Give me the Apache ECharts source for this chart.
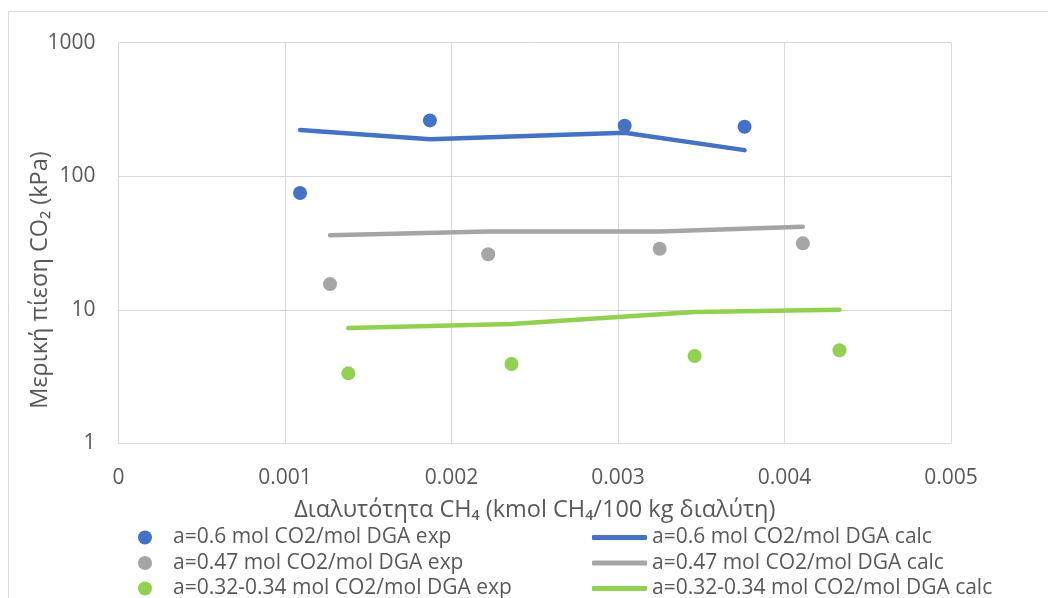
<!DOCTYPE html>
<html>
<head>
<meta charset="utf-8">
<script src="https://cdn.jsdelivr.net/npm/echarts@6/dist/echarts.min.js"></script>
<style>
  html, body { margin: 0; padding: 0; background: #fff; }
  #chart { width: 1048px; height: 598px; }
</style>
</head>
<body>
<div id="chart"></div>
<script>
// Solubility of CH4 (kmol CH4 / 100 kg solvent) for each CO2 loading
const xLoad060 = [0.00109, 0.00187, 0.00304, 0.00376];
const xLoad047 = [0.00127, 0.00222, 0.00325, 0.00411];
const xLoad033 = [0.00138, 0.00236, 0.00346, 0.00433];

// CO2 partial pressure (kPa): experimental points
const expLoad060 = [75, 262, 239, 235];
const expLoad047 = [15.6, 26.1, 28.7, 31.5];
const expLoad033 = [3.35, 3.94, 4.52, 4.99];

// CO2 partial pressure (kPa): calculated curves
const calcLoad060 = [222, 189, 212, 157];
const calcLoad047 = [36.2, 38.7, 38.7, 42.0];
const calcLoad033 = [7.31, 7.84, 9.64, 10.04];

const xTicks = [0, 0.001, 0.002, 0.003, 0.004, 0.005];
const yTicks = [1, 10, 100, 1000];

const xTitle = 'Διαλυτότητα CH₄ (kmol CH₄/100 kg διαλύτη)';
const yTitle = 'Μερική πίεση CO₂ (kPa)';

const expNames = [
  'a=0.6 mol CO2/mol DGA exp',
  'a=0.47 mol CO2/mol DGA exp',
  'a=0.32-0.34 mol CO2/mol DGA exp'
];
const calcNames = [
  'a=0.6 mol CO2/mol DGA calc',
  'a=0.47 mol CO2/mol DGA calc',
  'a=0.32-0.34 mol CO2/mol DGA calc'
];

const colors = ['#4472C4', '#A5A5A5', '#92D050'];
const FONT = '"Open Sans", "Noto Sans", sans-serif';
const TEXT = '#595959';
const GRID = '#D9D9D9';

const pairs = (xs, ys) => xs.map((x, i) => [x, ys[i]]);
const xs = [xLoad060, xLoad047, xLoad033];
const exps = [expLoad060, expLoad047, expLoad033];
const calcs = [calcLoad060, calcLoad047, calcLoad033];

const series = [];
exps.forEach((ys, i) => {
  series.push({
    name: expNames[i],
    type: 'scatter',
    symbol: 'circle',
    symbolSize: 14,
    itemStyle: { color: colors[i], opacity: 1 },
    data: pairs(xs[i], ys)
  });
});
calcs.forEach((ys, i) => {
  series.push({
    name: calcNames[i],
    type: 'line',
    showSymbol: false,
    symbol: 'none',
    itemStyle: { color: colors[i] },
    lineStyle: { color: colors[i], width: 4.5, cap: 'round', join: 'round' },
    data: pairs(xs[i], ys)
  });
});

const legendText = { color: TEXT, fontSize: 21, fontFamily: FONT, lineHeight: 21 };

const chart = echarts.init(document.getElementById('chart'), null, { renderer: 'canvas' });
chart.setOption({
  animation: false,
  backgroundColor: '#fff',
  textStyle: { fontFamily: FONT },
  graphic: [{
    // chart frame
    type: 'rect',
    silent: true,
    shape: { x: 8.5, y: 11.5, width: 1200, height: 800 },
    style: { fill: 'none', stroke: GRID, lineWidth: 1 }
  }, {
    // vertical axis title
    type: 'text',
    silent: true,
    x: 40,
    y: 280,
    rotation: Math.PI / 2,
    style: {
      text: yTitle,
      fill: TEXT,
      font: '23.5px ' + FONT,
      align: 'center',
      verticalAlign: 'middle'
    }
  }],
  grid: { left: 118.6, right: 97, top: 42.7, bottom: 154.5, containLabel: false },
  xAxis: {
    type: 'value',
    min: xTicks[0],
    max: xTicks[xTicks.length - 1],
    interval: xTicks[1] - xTicks[0],
    name: xTitle,
    nameLocation: 'middle',
    nameGap: 55,
    nameTextStyle: { color: TEXT, fontSize: 23.5, fontFamily: FONT },
    axisLine: { show: true, lineStyle: { color: GRID, width: 1 } },
    axisTick: { show: false },
    splitLine: { show: true, lineStyle: { color: GRID, width: 1 } },
    axisLabel: {
      color: TEXT, fontSize: 21, fontFamily: FONT, margin: 24,
      formatter: v => String(+v.toFixed(3))
    }
  },
  yAxis: {
    type: 'log',
    logBase: 10,
    min: yTicks[0],
    max: yTicks[yTicks.length - 1],
    axisLine: { show: true, lineStyle: { color: GRID, width: 1 } },
    axisTick: { show: false },
    splitLine: { show: true, lineStyle: { color: GRID, width: 1 } },
    axisLabel: {
      color: TEXT, fontSize: 21, fontFamily: FONT, margin: 23,
      formatter: v => String(Math.round(v))
    }
  },
  legend: [{
    orient: 'vertical',
    left: 133,
    top: 522,
    height: 90,
    itemWidth: 14,
    itemHeight: 14,
    itemGap: 4.5,
    icon: 'circle',
    textStyle: Object.assign({}, legendText, { padding: [0, 0, 0, 16] }),
    data: expNames
  }, {
    orient: 'vertical',
    left: 587,
    top: 522,
    height: 90,
    itemWidth: 55,
    itemHeight: 5,
    itemGap: 4.5,
    icon: 'roundRect',
    textStyle: legendText,
    data: calcNames
  }],
  series: series
});
</script>
</body>
</html>
